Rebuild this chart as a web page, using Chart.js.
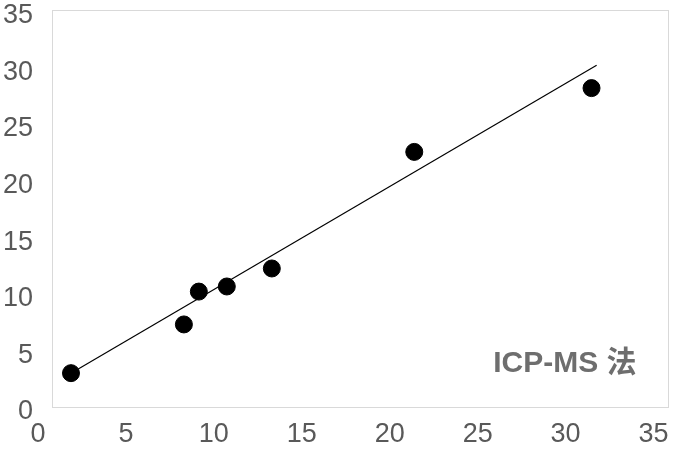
<!DOCTYPE html>
<html>
<head>
<meta charset="utf-8">
<script src="https://cdn.jsdelivr.net/npm/chart.js@4/dist/chart.umd.min.js"></script>
<style>
  html, body { margin: 0; padding: 0; background: #fff; }
  #wrap { width: 677px; height: 453px; }
</style>
</head>
<body>
<div id="wrap"><canvas id="c" width="677" height="453"></canvas></div>
<script>
// Data
const xValues = [1.08, 7.5, 8.35, 9.94, 12.5, 20.6, 30.68];
const yValues = [2.9, 7.2, 10.1, 10.55, 12.14, 22.43, 28.06];
// Trendline endpoints (as drawn in the reference)
const trendX = [1.08, 30.97];
const trendY = [2.9, 30.08];
const tickValues = [0, 5, 10, 15, 20, 25, 30, 35];
const annotationText = 'ICP-MS 法';

const points = xValues.map((x, i) => ({ x: x, y: yValues[i] }));
const trend = trendX.map((x, i) => ({ x: x, y: trendY[i] }));

const framePlugin = {
  id: 'frame',
  beforeDatasetsDraw(chart) {
    const a = chart.chartArea, ctx = chart.ctx;
    ctx.save();
    ctx.strokeStyle = '#d9d9d9';
    ctx.lineWidth = 1;
    ctx.strokeRect(Math.round(a.left) + 0.5, Math.round(a.top) + 0.5,
                   Math.round(a.right - a.left), Math.round(a.bottom - a.top));
    ctx.restore();
  },
  afterDraw(chart) {
    const a = chart.chartArea, ctx = chart.ctx;
    ctx.save();
    ctx.fillStyle = '#6e6e6e';
    ctx.font = 'bold 30px "Liberation Sans", "Noto Sans CJK SC", sans-serif';
    ctx.textAlign = 'right';
    ctx.textBaseline = 'middle';
    ctx.fillText(annotationText, a.right - 31, a.bottom - 42);
    ctx.restore();
  }
};

const tickFont = { family: '"Liberation Sans", sans-serif', size: 27 };

new Chart(document.getElementById('c'), {
  type: 'scatter',
  data: {
    datasets: [
      {
        label: 'data',
        data: points,
        backgroundColor: '#000',
        borderColor: '#000',
        pointRadius: 8.5,
        pointHoverRadius: 8.5,
        order: 1
      },
      {
        label: 'trend',
        type: 'line',
        data: trend,
        borderColor: '#000',
        borderWidth: 1.2,
        pointRadius: 0,
        fill: false,
        order: 2
      }
    ]
  },
  options: {
    responsive: false,
    animation: false,
    layout: { padding: { left: 3, right: 9, top: 8, bottom: 0 } },
    plugins: { legend: { display: false }, tooltip: { enabled: false } },
    scales: {
      x: {
        type: 'linear',
        min: 0, max: 35,
        afterBuildTicks: s => { s.ticks = tickValues.map(v => ({ value: v })); },
        grid: { display: false, drawTicks: false },
        border: { display: false },
        ticks: { color: '#595959', font: tickFont, padding: 12, labelOffset: -14 },
        afterFit: s => { s.height = 47; s.paddingLeft = 0; s.paddingRight = 0; }
      },
      y: {
        type: 'linear',
        min: 0, max: 35,
        afterBuildTicks: s => { s.ticks = tickValues.map(v => ({ value: v })); },
        grid: { display: false, drawTicks: false },
        border: { display: false },
        ticks: { color: '#595959', font: tickFont, padding: 19, labelOffset: 6 },
        afterFit: s => { s.width = 49; s.paddingTop = 0; s.paddingBottom = 0; }
      }
    }
  },
  plugins: [framePlugin]
});
</script>
</body>
</html>
